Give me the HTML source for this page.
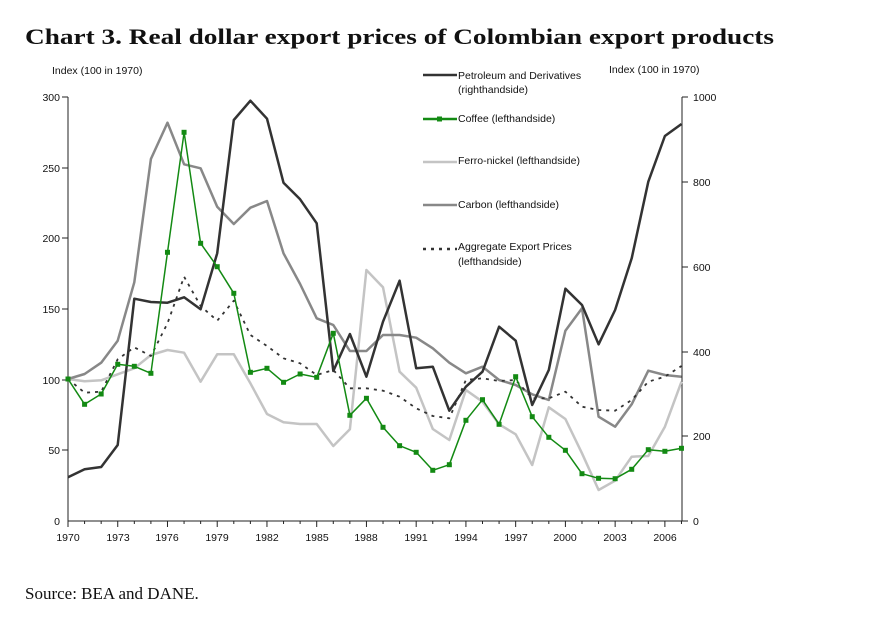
<!DOCTYPE html>
<html><head><meta charset="utf-8"><style>
html,body{margin:0;padding:0;background:#fff;}
svg{display:block;}
</style></head><body>
<svg width="876" height="628" viewBox="0 0 876 628" xmlns="http://www.w3.org/2000/svg">
<rect width="876" height="628" fill="#fff"/>
<text x="25" y="44" font-family="Liberation Serif, serif" font-weight="bold" font-size="22" textLength="749" lengthAdjust="spacingAndGlyphs" fill="#111">Chart 3. Real dollar export prices of Colombian export products</text>
<text x="25" y="599" font-family="Liberation Serif, serif" font-size="17" fill="#111">Source: BEA and DANE.</text>
<g font-family="Liberation Sans, sans-serif" font-size="10.5" fill="#111">
<text x="52" y="74">Index (100 in 1970)</text>
<text x="609" y="73">Index (100 in 1970)</text>
<g text-anchor="end">
<text x="60" y="101">300</text><text x="60" y="172">250</text><text x="60" y="242">200</text><text x="60" y="313">150</text><text x="60" y="384">100</text><text x="60" y="454">50</text><text x="60" y="525">0</text>
</g>
<text x="693" y="101">1000</text><text x="693" y="186">800</text><text x="693" y="271">600</text><text x="693" y="356">400</text><text x="693" y="440">200</text><text x="693" y="525">0</text>
<g text-anchor="middle">
<text x="68" y="541">1970</text><text x="118" y="541">1973</text><text x="167" y="541">1976</text><text x="217" y="541">1979</text><text x="267" y="541">1982</text><text x="317" y="541">1985</text><text x="366" y="541">1988</text><text x="416" y="541">1991</text><text x="466" y="541">1994</text><text x="516" y="541">1997</text><text x="565" y="541">2000</text><text x="615" y="541">2003</text><text x="665" y="541">2006</text>
</g>
<text x="458" y="79">Petroleum and Derivatives</text><text x="458" y="93">(righthandside)</text>
<text x="458" y="122">Coffee (lefthandside)</text>
<text x="458" y="164">Ferro-nickel (lefthandside)</text>
<text x="458" y="208">Carbon (lefthandside)</text>
<text x="458" y="250">Aggregate Export Prices</text><text x="458" y="265">(lefthandside)</text>
</g>
<g stroke-width="2.5" fill="none">
<line x1="423" y1="75" x2="457" y2="75" stroke="#333"/>
<line x1="423" y1="119" x2="457" y2="119" stroke="#138a13"/>
<rect x="437" y="116.5" width="5" height="5" fill="#138a13" stroke="none"/>
<line x1="423" y1="162" x2="457" y2="162" stroke="#c4c4c4"/>
<line x1="423" y1="205" x2="457" y2="205" stroke="#888"/>
<line x1="423" y1="249" x2="457" y2="249" stroke="#333" stroke-dasharray="3,5"/>
</g>
<g stroke="#222" stroke-width="1" fill="none">
<line x1="68" y1="97" x2="68" y2="521"/>
<line x1="62" y1="97" x2="68" y2="97"/><line x1="62" y1="168" x2="68" y2="168"/><line x1="62" y1="238" x2="68" y2="238"/><line x1="62" y1="309" x2="68" y2="309"/><line x1="62" y1="380" x2="68" y2="380"/><line x1="62" y1="450" x2="68" y2="450"/>
<line x1="682" y1="97" x2="682" y2="521"/>
<line x1="682" y1="97" x2="688" y2="97"/><line x1="682" y1="182" x2="688" y2="182"/><line x1="682" y1="267" x2="688" y2="267"/><line x1="682" y1="352" x2="688" y2="352"/><line x1="682" y1="436" x2="688" y2="436"/><line x1="682" y1="521" x2="688" y2="521"/>
<line x1="68" y1="521" x2="682" y2="521"/>
</g>
<g id="ticks" stroke="#222" stroke-width="1"></g>
<g id="series"></g>
</svg>
<script>
var X0=68,DX=16.58;
var pet=[477.3,469.3,467,445,298.7,302,302.7,297.3,309.3,253.3,120,100.7,118.7,182.7,199.3,223.3,371,334,376.7,321.7,280.7,368.3,366.7,410.7,386.7,371.7,326.7,340.7,405,370,288.7,305,344.3,310,258.3,181.7,136,124];
var cof=[379,404.3,394,364.3,366.3,373.3,252.3,132.3,243.3,266.7,293.3,372.3,368.3,382.3,374,377.3,333.3,415.3,398.3,427.3,445.7,452.3,470.3,464.7,420.3,399.7,424.3,376.7,416.7,437.3,450.3,473.7,478.3,478.7,469.3,449.7,451.3,448.3];
var fer=[379,381.3,380.3,374.3,368.3,355,350,352.7,381.7,354.3,354.3,383.3,414,422.3,424,424,446,429.3,270,287.3,371.7,387.7,429,440,390,401.7,424.3,434.3,465,407.3,419,453.3,490,480.7,456.7,456,426.7,381.7];
var car=[379,374,362.7,340.7,282.3,159,122.7,164.3,168.3,206.7,224,207.7,201,253.3,284,318.3,325,351,351,335,335,337.7,348.3,362.7,373.3,366.7,380,385,394.3,400,330.7,308.3,416.7,426.7,404.3,370.7,375,376.7];
var agg=[379,392.7,391.7,359.3,347.3,356,323.3,276.7,306,320.7,300.7,335,346,358.3,363.3,375,370,388.3,388.3,390.7,396.7,408.3,416,418.3,380,378.3,381,380,398.3,398.3,391.7,406.7,410,410.7,400,381.7,376.7,366];
function pts(a){return a.map(function(y,i){return (X0+DX*i).toFixed(1)+","+y}).join(" ");}
var ns="http://www.w3.org/2000/svg";
var t=document.getElementById("ticks");
for(var i=0;i<=37;i++){var l=document.createElementNS(ns,"line");var x=X0+DX*i;l.setAttribute("x1",x);l.setAttribute("x2",x);l.setAttribute("y1",521);l.setAttribute("y2",i%3==0?527:524);t.appendChild(l);}
var g=document.getElementById("series");
function pl(a,c,w,d){var p=document.createElementNS(ns,"polyline");p.setAttribute("points",pts(a));p.setAttribute("fill","none");p.setAttribute("stroke",c);p.setAttribute("stroke-width",w);p.setAttribute("stroke-linejoin","round");if(d)p.setAttribute("stroke-dasharray",d);g.appendChild(p);}
pl(fer,"#c4c4c4",2.5);
pl(car,"#888",2.5);
pl(agg,"#333",1.8,"3,5");
pl(pet,"#333",2.5);
pl(cof,"#138a13",1.5);
cof.forEach(function(y,i){var r=document.createElementNS(ns,"rect");r.setAttribute("x",X0+DX*i-2.5);r.setAttribute("y",y-2.5);r.setAttribute("width",5);r.setAttribute("height",5);r.setAttribute("fill","#138a13");g.appendChild(r);});
</script>
</body></html>
